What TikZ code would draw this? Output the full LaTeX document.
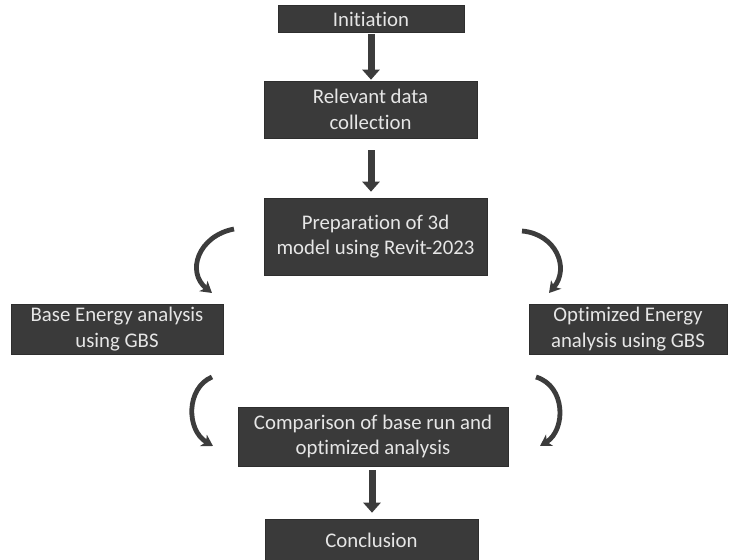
\documentclass[tikz,border=0pt]{standalone}
\usepackage{fontspec}
\setmainfont{Carlito}[Ligatures={NoCommon}]
\usetikzlibrary{arrows.meta}
\definecolor{boxfill}{HTML}{3A3A3A}
\definecolor{boxtext}{HTML}{E6E6E6}
\definecolor{arrowcol}{HTML}{3C3C3C}
\tikzset{
  stepbox/.style={fill=boxfill, draw=boxfill!80!black, line width=0.6pt, text=boxtext, align=center, inner sep=0pt,
    font=\fontsize{20.8}{25.5}\selectfont},
  downarrow/.style={draw=arrowcol, line width=7pt, -{Triangle[width=17pt,length=10pt]}},
  curvearrow/.style={draw=arrowcol, line width=4.8pt, -{Stealth[width=13pt,length=11pt,inset=3pt]}}
}
\begin{document}
\begin{tikzpicture}[x=1pt,y=-1pt]
\useasboundingbox (0,0) rectangle (730,559);
\node[stepbox, minimum width=186pt, minimum height=27pt] (init) at (371,19) {Initiation};
\node[stepbox, minimum width=213pt, minimum height=57pt] (rel) at (370.5,109.5) {Relevant data\\collection};
\node[stepbox, minimum width=223pt, minimum height=77pt] (prep) at (375.5,236.5) {Preparation of 3d\\model using Revit-2023};
\node[stepbox, minimum width=212pt, minimum height=50pt] (base) at (117,329) {Base Energy analysis\\using GBS};
\node[stepbox, minimum width=198pt, minimum height=50pt] (opt) at (628,329) {Optimized Energy\\analysis using GBS};
\node[stepbox, minimum width=270pt, minimum height=59pt] (comp) at (373,436.5) {Comparison of base run and\\optimized analysis};
\node[stepbox, minimum width=213pt, minimum height=42pt] (conc) at (371.5,540) {Conclusion};

\draw[downarrow, shorten <=1pt, shorten >=1pt] (init.south -| 371,0) -- (rel.north -| 371,0);
\draw[downarrow, shorten <=12pt, shorten >=6pt] (rel.south -| 371,0) -- (prep.north -| 371,0);
\draw[downarrow, shorten <=4pt, shorten >=6pt] (comp.south -| 372,0) -- (conc.north -| 372,0);

\coordinate (tl1) at (234,229);
\coordinate (tl2) at (212,293);
\coordinate (tr1) at (522,231);
\coordinate (tr2) at (549,293);
\coordinate (bl1) at (212,377);
\coordinate (bl2) at (213,446);
\coordinate (br1) at (536,377);
\coordinate (br2) at (540,446);

\draw[curvearrow] (tl1) .. controls (198,236) and (186,272) .. (tl2);
\draw[curvearrow] (tr1) .. controls (556,234) and (570,268) .. (tr2);
\draw[curvearrow] (bl1) .. controls (186,388) and (186,430) .. (bl2);
\draw[curvearrow] (br1) .. controls (566,386) and (566,430) .. (br2);
\end{tikzpicture}
\end{document}
